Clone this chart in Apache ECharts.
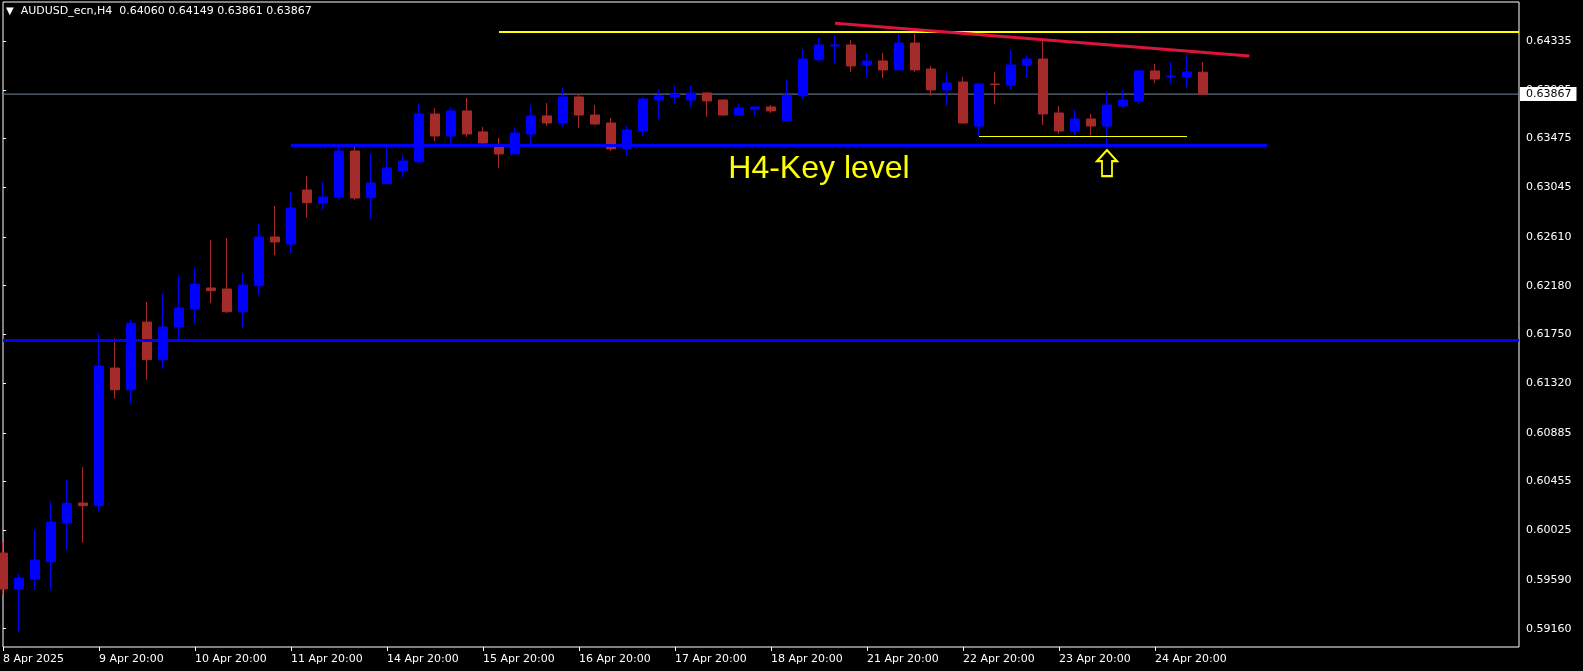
<!DOCTYPE html>
<html>
<head>
<meta charset="utf-8">
<script src="https://cdn.jsdelivr.net/npm/echarts@6/dist/echarts.min.js"></script>
<style>
html,body{margin:0;padding:0;background:#000;}
#c{width:1583px;height:671px;}
</style>
</head>
<body>
<div id="c"></div>
<script>
// ---- data (H4 bars, index 0 = 8 Apr 2025 20:00) ----
const openP = [0.59826,0.59509,0.59597,0.59750,0.60091,0.60267,0.60243,0.61455,0.61264,0.61860,
0.61529,0.61816,0.61975,0.62160,0.62151,0.61951,0.62180,0.62609,0.62547,0.63023,
0.62908,0.62961,0.63366,0.62955,0.63078,0.63190,0.63272,0.63692,0.63498,0.63719,
0.63534,0.63402,0.63340,0.63516,0.63675,0.63613,0.63842,0.63683,0.63613,0.63384,
0.63542,0.63815,0.63842,0.63815,0.63877,0.63815,0.63683,0.63736,0.63754,0.63630,
0.63853,0.64170,0.64291,0.64300,0.64124,0.64159,0.64080,0.64317,0.64088,0.63904,
0.63974,0.63586,0.63956,0.63947,0.64124,0.64176,0.63701,0.63542,0.63648,0.63586,
0.63763,0.63807,0.64071,0.64018,0.64018,0.64060];
const closeP = [0.59509,0.59606,0.59765,0.60099,0.60264,0.60243,0.61473,0.61264,0.61849,0.61529,
0.61816,0.61984,0.62195,0.62136,0.61951,0.62186,0.62609,0.62565,0.62864,0.62911,
0.62961,0.63366,0.62952,0.63085,0.63217,0.63278,0.63692,0.63498,0.63719,0.63516,
0.63437,0.63340,0.63525,0.63675,0.63613,0.63842,0.63683,0.63604,0.63384,0.63551,
0.63824,0.63851,0.63868,0.63877,0.63807,0.63683,0.63745,0.63754,0.63719,0.63859,
0.64176,0.64300,0.64300,0.64115,0.64159,0.64080,0.64317,0.64080,0.63904,0.63965,
0.63613,0.63956,0.63951,0.64124,0.64176,0.63692,0.63542,0.63648,0.63586,0.63771,
0.63815,0.64071,0.64000,0.64027,0.64062,0.63867];
const highP = [0.59923,0.59641,0.60029,0.60284,0.60469,0.60584,0.61761,0.61717,0.61878,0.62037,
0.62107,0.62266,0.62336,0.62583,0.62600,0.62292,0.62723,0.62882,0.63005,0.63146,
0.63093,0.63413,0.63402,0.63340,0.63402,0.63331,0.63780,0.63745,0.63754,0.63833,
0.63578,0.63481,0.63578,0.63771,0.63789,0.63921,0.63868,0.63771,0.63657,0.63586,
0.63842,0.63912,0.63947,0.63939,0.63886,0.63824,0.63780,0.63754,0.63771,0.64000,
0.64265,0.64361,0.64379,0.64344,0.64229,0.64229,0.64397,0.64397,0.64115,0.64053,
0.64018,0.63968,0.64062,0.64256,0.64212,0.64344,0.63763,0.63727,0.63692,0.63895,
0.63904,0.64080,0.64132,0.64150,0.64212,0.64149];
const lowP = [0.59459,0.59133,0.59509,0.59509,0.59853,0.59917,0.60190,0.61185,0.61147,0.61352,
0.61449,0.61708,0.61846,0.62028,0.61942,0.61810,0.62101,0.62450,0.62468,0.62779,
0.62849,0.62944,0.62935,0.62768,0.63076,0.63137,0.63254,0.63454,0.63437,0.63490,
0.63428,0.63217,0.63340,0.63428,0.63586,0.63578,0.63569,0.63595,0.63366,0.63322,
0.63498,0.63648,0.63789,0.63754,0.63666,0.63675,0.63675,0.63675,0.63701,0.63630,
0.63824,0.64150,0.64141,0.64062,0.64018,0.64009,0.64080,0.64062,0.63851,0.63763,
0.63604,0.63498,0.63780,0.63904,0.64009,0.63595,0.63516,0.63507,0.63507,0.63428,
0.63745,0.63780,0.63965,0.63965,0.63921,0.63861];

const timeTickIdx = [0,6,12,18,24,30,36,42,48,54,60,66,72];
const timeTickLabels = ["8 Apr 2025","9 Apr 20:00","10 Apr 20:00","11 Apr 20:00","14 Apr 20:00","15 Apr 20:00","16 Apr 20:00","17 Apr 20:00","18 Apr 20:00","21 Apr 20:00","22 Apr 20:00","23 Apr 20:00","24 Apr 20:00"];
const priceTicks = [0.64335,0.63905,0.63475,0.63045,0.62610,0.62180,0.61750,0.61320,0.60885,0.60455,0.60025,0.59590,0.59160];

const symbolName = "AUDUSD_ecn,H4";
const lastClose = 0.63867;

// drawn objects (price levels / trend line), in bar index and price
const resistanceLevel = 0.64417;     // yellow line
const keyLevel = 0.63417;            // H4 key level
const lowerLevel = 0.61699;          // lower blue line
const supportSmall = 0.63496;        // thin yellow line
const trendStart = [52, 0.64491];
const trendEnd = [77.9, 0.64203];
const keyLabelText = "H4-Key level";
const keyLabelPos = [51, 0.63208];
const arrowPos = [69, 0.63260];

// ---- chart ----
const X_MIN = 0, X_MAX = 94.75;
const Y_MIN = 0.58999, Y_MAX = 0.64678;
const FONT = "DejaVu Sans";

const candles = openP.map((o, i) => [i, o, closeP[i], lowP[i], highP[i]]);

const chart = echarts.init(document.getElementById('c'), null, {renderer: 'canvas'});
chart.setOption({
  backgroundColor: '#000000',
  animation: false,
  title: {
    text: '{tri|▼}  ' + symbolName + '  ' + [openP[75], highP[75], lowP[75], closeP[75]].map(v => v.toFixed(5)).join(' '),
    left: 6, top: 6, padding: 0,
    textStyle: {
      color: '#ffffff', fontSize: 11, fontFamily: FONT, fontWeight: 'normal',
      rich: { tri: { fontSize: 10, color: '#ffffff', fontFamily: FONT } }
    }
  },
  grid: {
    left: 3, right: 64, top: 2, bottom: 24,
    show: true, borderColor: '#ffffff', borderWidth: 1, backgroundColor: 'transparent'
  },
  xAxis: {
    type: 'value', min: X_MIN, max: X_MAX,
    axisLine: { show: false },
    splitLine: { show: false },
    axisTick: { show: true, customValues: timeTickIdx, length: 4, lineStyle: { color: '#ffffff' } },
    axisLabel: {
      show: true, customValues: timeTickIdx, color: '#ffffff', fontSize: 11, fontFamily: FONT,
      align: 'left', margin: 7,
      formatter: v => { const k = timeTickIdx.indexOf(Math.round(v)); return k >= 0 ? timeTickLabels[k] : ''; }
    }
  },
  yAxis: {
    type: 'value', position: 'right', min: Y_MIN, max: Y_MAX, scale: true,
    axisLine: { show: false },
    splitLine: { show: false },
    axisTick: { show: true, customValues: priceTicks, length: 3, lineStyle: { color: '#ffffff' } },
    axisLabel: {
      show: true, customValues: priceTicks, color: '#ffffff', fontSize: 11, fontFamily: FONT,
      margin: 7, formatter: v => v.toFixed(5)
    }
  },
  series: [
    {
      type: 'line', z: 1, silent: true, symbol: 'none',
      data: [[X_MIN, lastClose], [X_MAX, lastClose]],
      lineStyle: { color: '#778899', width: 1 }
    },
    {
      type: 'candlestick', z: 2,
      data: candles,
      encode: { x: 0, y: [1, 2, 3, 4] },
      barWidth: 10,
      clip: true,
      itemStyle: {
        color: '#0000ff', color0: '#a52a2a',
        borderColor: '#0000ff', borderColor0: '#a52a2a', borderWidth: 1
      },
      markLine: {
        silent: true, symbol: ['none', 'none'], animation: false,
        label: { show: false },
        data: [
          [{ coord: [31, resistanceLevel], lineStyle: { color: '#ffff00', width: 2, type: 'solid' } }, { coord: [X_MAX, resistanceLevel] }],
          [{ coord: [18, keyLevel], lineStyle: { color: '#0000ff', width: 3, type: 'solid' } }, { coord: [79, keyLevel] }],
          [{ coord: [X_MIN, lowerLevel], lineStyle: { color: '#0000ff', width: 3, type: 'solid' } }, { coord: [X_MAX, lowerLevel] }],
          [{ coord: [61, supportSmall], lineStyle: { color: '#ffff00', width: 1, type: 'solid' } }, { coord: [74, supportSmall] }],
          [{ coord: trendStart, lineStyle: { color: '#dc143c', width: 3, type: 'solid' } }, { coord: trendEnd }]
        ]
      },
      markPoint: {
        silent: true, animation: false,
        data: [
          {
            coord: keyLabelPos, symbol: 'circle', symbolSize: 0,
            label: { show: true, position: 'inside', formatter: keyLabelText, color: '#ffff00', fontSize: 32, fontFamily: 'Liberation Sans' }
          },
          {
            coord: arrowPos, symbol: 'path://M11 0 L22 11 L16.5 11 L16.5 26 L5.5 26 L5.5 11 L0 11 Z', symbolSize: [20, 26],
            itemStyle: { color: 'rgba(0,0,0,0)', borderColor: '#ffff00', borderWidth: 2 },
            label: { show: false }
          },
          {
            coord: [X_MAX, lastClose], symbol: 'circle', symbolSize: 0,
            label: {
              show: true, position: 'right', distance: 1, formatter: lastClose.toFixed(5),
              color: '#000000', backgroundColor: '#ffffff', fontSize: 11, fontFamily: FONT,
              padding: [1, 5, 1, 6], lineHeight: 12
            }
          }
        ]
      }
    }
  ]
});
</script>
</body>
</html>
